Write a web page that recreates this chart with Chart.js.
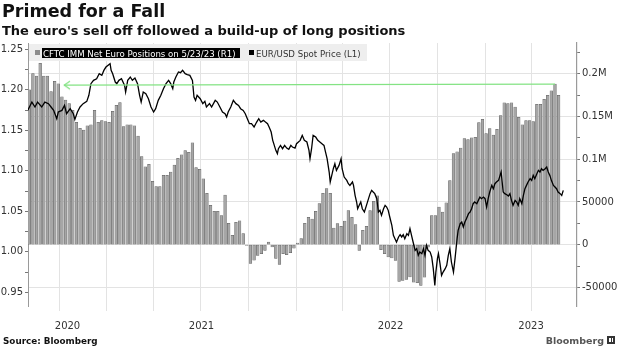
<!DOCTYPE html>
<html><head><meta charset="utf-8">
<script src="https://cdn.jsdelivr.net/npm/chart.js@4.4.1/dist/chart.umd.min.js"></script>
<style>html,body{margin:0;padding:0;background:#fff;}canvas{display:block;}</style>
</head><body>
<canvas id="c" width="620" height="348"></canvas>
<script>
// ---------- texts ----------
const titleText = 'Primed for a Fall';
const subtitleText = "The euro's sell off followed a build-up of long positions";
const sourceText = 'Source: Bloomberg';
const logoText = 'Bloomberg';
const barLabel = 'CFTC IMM Net Euro Positions on 5/23/23 (R1)';
const lineLabel = 'EUR/USD Spot Price (L1)';

// ---------- dates ----------
const epoch = '2020-08-01';           // day 0 of the x axis
const firstBarDate = '2020-08-04';    // weekly CFTC report dates start here
const axisStartDay = 0.5;
const axisEndDay = 1060.5;

// ---------- CFTC net euro positions (contracts), weekly ----------
const netPositions = [
181000,200000,197000,212000,197000,197000,179000,191000,188000,173000,
169000,165000,157000,143000,136000,134000,139000,140000,157000,143000,
145000,144000,143000,156000,163000,166000,138000,140000,140000,139000,
127000,103000,91000,94000,74000,68000,68000,81000,81000,85000,
93000,101000,105000,110000,108000,119000,90000,88000,77000,60000,
46000,39000,39000,34000,58000,25000,11000,26000,28000,13000,
-1000,-22000,-18000,-12500,-10500,-6600,3000,-2700,-16000,-23000,
-10500,-11700,-9400,-4000,2000,7000,25000,32000,30000,39000,
48000,60000,65500,60000,19500,24600,21500,27700,40000,32000,
23400,-6600,16800,21500,40000,50700,57000,-5800,-10500,-14400,
-15600,-18300,-43000,-41700,-40600,-37800,-43700,-44500,-47600,-38000,
-3000,34000,34000,44000,38000,48800,75000,106500,108500,113000,
124000,123000,125000,125600,142800,146700,130000,135700,128000,135000,
151000,165800,165000,165800,161000,149000,140000,145000,145000,144000,
164000,164000,170000,174700,180000,187700,174700
];

// ---------- EUR/USD spot (days since epoch, price) ----------
const priceDays = [
0,8,14,19,27,33,40,45,50,56,59,66,71,75,82,88,91,96,101,107,114,118,122,127,133,138,143,147,151,159,
161,164,169,172,176,181,187,189,193,198,202,207,212,216,219,223,228,233,238,243,247,252,257,
262,267,272,276,280,282,286,291,295,299,304,308,313,318,321,324,327,333,338,342,345,351,355,362,366,
371,376,381,384,387,392,397,402,407,411,416,420,424,428,432,437,442,446,450,455,459,463,466,470,473,
475,479,482,484,488,492,496,500,504,508,511,516,519,
526,530,534,539,543,545,548,551,556,560,564,568,572,575,578,582,584,587,590,593,596,601,605,607,611,
616,619,622,627,629,632,635,637,640,643,646,650,654,658,661,664,667,670,674,677,680,683,687,690,693,
696,699,703,706,709,712,716,719,722,725,728,732,735,738,741,744,748,751,754,757,761,764,767,770,773,777,780,
783,786,788,791,793,796,799,802,806,809,812,815,818,822,825,827,829,831,835,838,841,844,847,851,854,857,
860,863,867,870,873,876,880,883,886,889,892,896,899,902,905,909,912,914,916,918,921,925,928,931,934,937,
941,944,947,950,954,957,960,963,966,970,973,976,979,983,986,989,992,995,999,1002,1005,1008,1011,1015,1018,
1021,1024,1028,1031,1034
];
const priceValues = [
1.1746,1.1849,1.1788,1.1849,1.1788,1.1849,1.1829,1.1788,1.1746,1.1643,1.1726,1.1746,1.1808,1.1705,1.1767,1.1705,1.1635,1.1726,1.1788,1.1829,1.1857,1.1932,1.2076,1.2117,1.2137,1.2199,1.2178,1.2240,1.2281,1.2323,
1.2240,1.2199,1.2096,1.2076,1.2117,1.2137,1.2055,1.1973,1.2117,1.2158,1.2117,1.2146,1.2076,1.1932,1.1849,1.1973,1.1952,1.1890,1.1788,1.1726,1.1767,1.1870,1.1932,
1.2014,1.2076,1.2117,1.2076,1.2014,1.2096,1.2158,1.2220,1.2211,1.2240,1.2199,1.2187,1.2178,1.2117,1.1911,1.1870,1.1932,1.1890,1.1829,1.1857,1.1788,1.1829,1.1788,1.1870,1.1849,
1.1788,1.1726,1.1705,1.1664,1.1726,1.1788,1.1870,1.1829,1.1808,1.1767,1.1746,1.1705,1.1643,1.1582,1.1582,1.1541,1.1602,1.1643,1.1602,1.1623,1.1602,1.1582,1.1541,1.1479,1.1376,
1.1335,1.1253,1.1211,1.1273,1.1314,1.1273,1.1314,1.1281,1.1265,1.1314,1.1294,1.1281,1.1335,
1.1376,1.1438,1.1376,1.1356,1.1253,1.1150,1.1273,1.1438,1.1417,1.1376,1.1356,1.1335,1.1314,1.1232,1.1150,1.0985,1.0862,1.0944,1.1026,1.1088,1.1006,1.1067,1.1150,1.1026,1.0923,
1.0882,1.0841,1.0820,1.0862,1.0820,1.0697,1.0615,1.0532,1.0574,1.0615,1.0532,1.0491,1.0574,1.0656,1.0718,1.0759,1.0738,1.0718,1.0656,1.0491,1.0512,1.0450,1.0532,1.0574,1.0553,
1.0512,1.0430,1.0327,1.0203,1.0162,1.0121,1.0183,1.0211,1.0183,1.0211,1.0162,1.0224,1.0203,1.0286,1.0203,1.0121,1.0018,1.0039,0.9956,0.9997,0.9977,1.0039,0.9956,1.0080,1.0018,0.9997,0.9936,
0.9792,0.9586,0.9750,0.9915,0.9977,0.9853,0.9709,0.9750,0.9792,0.9833,0.9956,1.0039,0.9874,0.9750,0.9915,1.0039,1.0162,1.0265,1.0347,1.0368,1.0306,1.0368,1.0409,1.0471,1.0491,1.0532,
1.0594,1.0615,1.0594,1.0635,1.0676,1.0656,1.0676,1.0656,1.0553,1.0656,1.0738,1.0820,1.0779,1.0841,1.0862,1.0882,1.0944,1.0985,1.0862,1.0738,1.0718,1.0705,1.0689,1.0718,1.0635,1.0574,
1.0635,1.0615,1.0574,1.0656,1.0594,1.0697,1.0779,1.0820,1.0862,1.0903,1.0882,1.0944,1.0903,1.0965,1.1006,1.0985,1.1026,1.1006,1.1026,1.1047,1.0985,1.0944,1.0882,1.0820,1.0800,
1.0779,1.0738,1.0718,1.0697,1.0759
];

// ---------- peak reference arrow ----------
const peakArrowDates = ['2020-10-10', '2023-05-16'];
const peakArrowValues = [186500, 187600];

// ---------- axes ----------
const quarterStarts = ['2020-10-01','2021-01-01','2021-04-01','2021-07-01','2021-10-01','2022-01-01',
  '2022-04-01','2022-07-01','2022-10-01','2023-01-01','2023-04-01'];
const yearLabels = ['2020','2021','2022','2023'];
const yearStarts = ['2020-01-01','2021-01-01','2022-01-01','2023-01-01','2024-01-01'];
const leftTicks = [0.95,0.975,1.00,1.025,1.05,1.075,1.10,1.125,1.15,1.175,1.20,1.225,1.25];
const leftLabeled = [0.95,1.00,1.05,1.10,1.15,1.20,1.25];
const rightTicks = [-50000,-25000,0,25000,50000,75000,100000,125000,150000,175000,200000,225000];
const rightLabels = {'-50000':'-50000','0':'0','50000':'50000','100000':'0.1M','150000':'0.15M','200000':'0.2M'};
const leftMin = 0.9331, leftMax = 1.2578;
const rightMin = -71700, rightMax = 235800;

// ---------- build ----------
const DAY = 86400000;
const dayOf = s => Math.round((Date.parse(s) - Date.parse(epoch)) / DAY);
const firstBarDay = dayOf(firstBarDate);
const barData = netPositions.map((v, i) => ({x: firstBarDay + 7 * i, y: v}));
const lineData = priceDays.map((d, i) => ({x: d, y: priceValues[i]}));
const arrowData = peakArrowDates.map((d, i) => ({x: dayOf(d), y: peakArrowValues[i]}));

const GREEN = '#84e384';
const chev = document.createElement('canvas');
chev.width = 16; chev.height = 12;
(function(){
  const c2 = chev.getContext('2d');
  c2.strokeStyle = GREEN; c2.lineWidth = 1.3;
  c2.beginPath(); c2.moveTo(14, 2); c2.lineTo(8.3, 6); c2.lineTo(14, 10); c2.stroke();
})();

const FONT = '"DejaVu Sans", Verdana, sans-serif';
const isLabeledLeft = v => leftLabeled.some(t => Math.abs(t - v) < 1e-6);

const decor = {
  id: 'decor',
  beforeDraw(chart) {
    const ctx = chart.ctx;
    ctx.save(); ctx.fillStyle = '#fff'; ctx.fillRect(0, 0, chart.width, chart.height); ctx.restore();
  },
  afterDraw(chart) {
    const ctx = chart.ctx;
    const area = chart.chartArea;
    ctx.save();
    ctx.textAlign = 'left'; ctx.textBaseline = 'alphabetic';
    ctx.fillStyle = '#111';
    ctx.font = 'bold 17.5px ' + FONT; ctx.fillText(titleText, 2, 17);
    ctx.font = 'bold 13px ' + FONT; ctx.fillText(subtitleText, 2, 35);

    // legend
    ctx.fillStyle = '#eeeeee'; ctx.fillRect(29, 44, 338, 17);
    ctx.fillStyle = '#8c8c8c'; ctx.fillRect(35, 50, 5, 5);
    ctx.fillStyle = '#000'; ctx.fillRect(42, 48, 198, 10);
    ctx.font = '8.6px ' + FONT;
    ctx.fillStyle = '#fff'; ctx.fillText(barLabel, 43, 56.5);
    ctx.fillStyle = '#000'; ctx.fillRect(249, 50, 5, 5);
    ctx.fillStyle = '#333'; ctx.fillText(lineLabel, 256, 56.5);

    // year labels centred on each year's visible span
    const xs = chart.scales.x;
    ctx.font = '10px ' + FONT; ctx.fillStyle = '#333';
    ctx.textAlign = 'center'; ctx.textBaseline = 'middle';
    for (let i = 0; i < yearLabels.length; i++) {
      const a = Math.max(xs.getPixelForValue(dayOf(yearStarts[i])), area.left);
      const b = Math.min(xs.getPixelForValue(dayOf(yearStarts[i + 1])), area.right);
      ctx.fillText(yearLabels[i], (a + b) / 2, 326);
    }

    // source + logo
    ctx.textAlign = 'left'; ctx.textBaseline = 'alphabetic';
    ctx.fillStyle = '#111'; ctx.font = 'bold 8.8px ' + FONT;
    ctx.fillText(sourceText, 3, 344);
    ctx.textAlign = 'right'; ctx.fillStyle = '#555'; ctx.font = 'bold 9.5px ' + FONT;
    ctx.fillText(logoText, 604, 344);
    ctx.fillStyle = '#333'; ctx.fillRect(607, 336, 8, 8);
    ctx.fillStyle = '#fff'; ctx.fillRect(609, 338, 2, 4); ctx.fillRect(612, 338, 1, 4);
    ctx.restore();
  }
};

new Chart(document.getElementById('c'), {
  type: 'bar',
  data: {
    datasets: [
      {type: 'bar', label: barLabel, data: barData, yAxisID: 'yR', xAxisID: 'x',
       backgroundColor: '#a6a6a6', borderColor: '#5c5c5c', borderWidth: 0.5,
       borderSkipped: false, barThickness: 2.7, order: 3},
      {type: 'line', label: lineLabel, data: lineData, yAxisID: 'yL', xAxisID: 'x',
       borderColor: '#000', borderWidth: 1.3, pointRadius: 0, tension: 0, order: 2},
      {type: 'line', label: 'peak', data: arrowData, yAxisID: 'yR', xAxisID: 'x',
       borderColor: GREEN, borderWidth: 1.2, pointRadius: [5, 0], pointStyle: [chev, 'circle'],
       pointBackgroundColor: GREEN, pointBorderColor: GREEN, tension: 0, order: 1}
    ]
  },
  options: {
    responsive: false, animation: false, devicePixelRatio: 1,
    layout: {padding: {top: 43, left: 0, right: 0, bottom: 0}},
    plugins: {legend: {display: false}, tooltip: {enabled: false}, title: {display: false}},
    scales: {
      x: {
        type: 'linear', min: axisStartDay, max: axisEndDay, offset: false,
        afterBuildTicks: s => { s.ticks = quarterStarts.map(d => ({value: dayOf(d)})); },
        afterFit: s => { s.height = 42; },
        grid: {offset: false, color: '#e3e3e3', lineWidth: 1, drawTicks: true, tickLength: 5, tickColor: '#e3e3e3'},
        border: {display: false},
        ticks: {display: false}
      },
      yL: {
        type: 'linear', position: 'left', min: leftMin, max: leftMax,
        afterBuildTicks: s => { s.ticks = leftTicks.map(v => ({value: v})); },
        afterFit: s => { s.width = 28; },
        grid: {drawOnChartArea: false, drawTicks: true, tickLength: 3, tickColor: '#777'},
        border: {display: true, color: '#9a9a9a', width: 1},
        ticks: {padding: 2, color: '#333', font: {family: FONT, size: 10}, autoSkip: false,
          callback: v => isLabeledLeft(v) ? v.toFixed(2) : ''}
      },
      yR: {
        type: 'linear', position: 'right', min: rightMin, max: rightMax,
        afterBuildTicks: s => { s.ticks = rightTicks.map(v => ({value: v})); },
        afterFit: s => { s.width = 43; },
        grid: {drawOnChartArea: true, drawTicks: true, tickLength: 3,
          color: c => (c.tick && rightLabels[String(c.tick.value)] !== undefined) ? '#e3e3e3' : 'rgba(0,0,0,0)',
          tickColor: '#777'},
        border: {display: true, color: '#9a9a9a', width: 1.2},
        ticks: {padding: 2, color: '#333', font: {family: FONT, size: 10}, autoSkip: false,
          callback: v => rightLabels[String(v)] !== undefined ? rightLabels[String(v)] : ''}
      }
    }
  },
  plugins: [decor]
});
</script>
</body></html>
